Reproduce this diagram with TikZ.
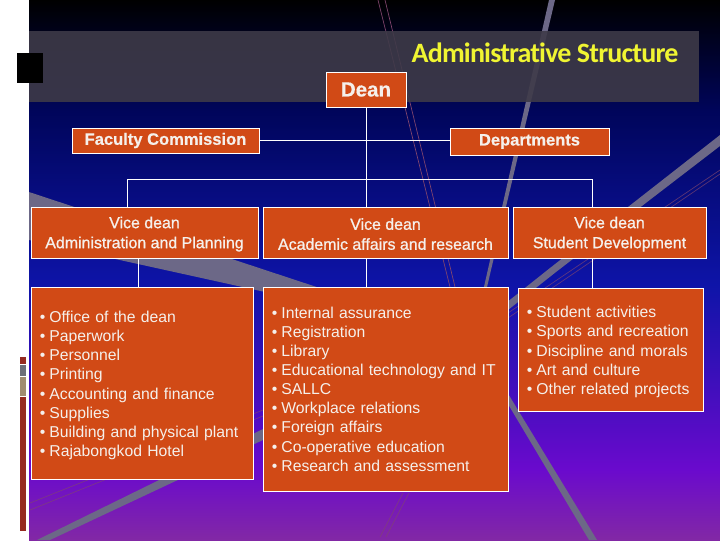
\documentclass[tikz,border=0pt]{standalone}
\usepackage{fontspec}
\setmainfont{Liberation Sans}
\newfontfamily\titlefont[Ligatures=NoCommon,LetterSpace=-3]{Carlito}
\newfontfamily\vicefont[FakeBold=0.9]{Liberation Sans}
\newfontfamily\headfont[FakeBold=0.5]{Liberation Sans Bold}
\usepackage{tikz}
\definecolor{BgTop}{RGB}{0,0,0}
\definecolor{BgNavy}{RGB}{0,5,90}
\definecolor{BgBlue}{RGB}{14,20,168}
\definecolor{BgViolet}{RGB}{106,10,205}
\definecolor{BgPlum}{RGB}{130,40,165}
\definecolor{BandGray}{RGB}{62,58,72}
\definecolor{LineGray}{RGB}{108,104,135}
\definecolor{FaintLine}{RGB}{130,70,110}
\definecolor{BoxOrange}{RGB}{209,74,22}
\definecolor{TextWhite}{RGB}{245,240,235}
\definecolor{TitleYellow}{RGB}{240,245,50}
\definecolor{BarRed}{RGB}{150,42,32}
\definecolor{BarGray}{RGB}{108,110,120}
\definecolor{BarTan}{RGB}{160,140,112}
\newcommand{\itm}[1]{\makebox[7.2pt][l]{\textbullet}#1}
\newcommand{\topitm}[1]{\rule{0pt}{12.2pt}\itm{#1}}
\newcommand{\vicetop}{\rule{0pt}{11pt}Vice dean}
\tikzset{
	orgbox/.style={draw=white, fill=BoxOrange, line width=0.75pt, text=TextWhite, inner sep=0pt, outer sep=0pt, align=center, minimum width=#1*0.75pt},
	vicebox/.style={orgbox=#1, minimum height=38.25pt, font=\vicefont\fontsize{11.95}{15}\selectfont},
	headbox/.style={orgbox=#1, font=\headfont\fontsize{12.4}{15}\selectfont},
	listbox/.style={orgbox=#1, align=left, inner xsep=6.6pt, text width=#1*0.75pt-13.2pt, font=\fontsize{11.8}{14.35}\selectfont},
	orgline/.style={draw=white, line width=0.75pt},
}
\begin{document}
\begin{tikzpicture}[x=0.75pt,y=-0.75pt]
	\useasboundingbox (0,0) rectangle (720,540);
	% background
	\fill[white] (0,0) rectangle (720,540);
	\shade[top color=BgTop, bottom color=BgNavy] (29,0) rectangle (720,110);
	\shade[top color=BgNavy, bottom color=BgBlue] (29,109.5) rectangle (720,285);
	\shade[top color=BgBlue, bottom color=BgViolet] (29,284.5) rectangle (720,470);
	\shade[top color=BgViolet, bottom color=BgPlum] (29,469.5) rectangle (720,540);

	% streaks
	\fill[LineGray] (29,192) -- (465,336) -- (29,240) -- cycle;
	\fill[LineGray] (549,0) -- (555,0) -- (491,270) -- (484,300) -- (481,300) -- cycle;
	\fill[LineGray] (720,135) -- (720,146) -- (556,272) -- (508,310) -- (263,440) -- (50,540) -- (37,540) -- (263,429) -- (506,303) -- (550,268) -- cycle;
	\fill[LineGray] (440,290) -- (445,290) -- (597,540) -- (589,540) -- cycle;
	\draw[FaintLine, line width=0.5pt] (378,0) -- (450,287);
	\draw[FaintLine, line width=0.5pt] (385,0) -- (455,287);
	\draw[FaintLine, line width=0.5pt, opacity=0.7] (720,170) -- (508,313) -- (263,410) -- (30,503);
	\draw[FaintLine, line width=0.5pt, opacity=0.7] (720,174) -- (508,318) -- (263,416) -- (30,510);
	\draw[FaintLine, line width=0.5pt, opacity=0.7] (380,537) -- (403,493);
	\draw[FaintLine, line width=0.5pt, opacity=0.7] (386,537) -- (409,493);

	% title band
	\fill[BandGray, opacity=0.9] (29,31) rectangle (699,102);
	\fill[black] (17,53) rectangle (43,83);
	\node[text=TitleYellow, font=\titlefont\bfseries\fontsize{21}{23}\selectfont] (title) at (545,53) {Administrative Structure};

	% colour bar
	\fill[BarRed] (20,357) rectangle (26,364);
	\fill[BarGray] (20,365) rectangle (26,376);
	\fill[BarTan] (20,377) rectangle (26,396);
	\fill[BarRed] (20,397) rectangle (26,531);

	% top row
	\node[headbox=80, minimum height=26.25pt, font=\headfont\fontsize{15.4}{17}\selectfont] (dean) at (366,89.5) {Dean};
	\node[headbox=187, minimum height=18.75pt] (faculty) at (165.5,140.5) {Faculty Commission};
	\node[headbox=159, minimum height=20.25pt] (depts) at (529.5,141.5) {Departments};

	% vice deans
	\node[vicebox=227] (adminvd) at (144.5,232.5) {\vicetop\\Administration and Planning};
	\node[vicebox=245] (acadvd) at (385.5,232.5) {\vicetop\\Academic affairs and research};
	\node[vicebox=193] (studvd) at (609.5,232.5) {\vicetop\\Student Development};

	% lists
	\node[listbox=222, minimum height=144pt] (adminlist) at (142,383) {\topitm{Office of the dean}\\ \itm{Paperwork}\\ \itm{Personnel}\\ \itm{Printing}\\ \itm{Accounting and finance}\\ \itm{Supplies}\\ \itm{Building and physical plant}\\ \itm{Rajabongkod Hotel}};
	\node[listbox=245, minimum height=153pt] (acadlist) at (385.5,389) {\itm{Internal assurance}\\ \itm{Registration}\\ \itm{Library}\\ \itm{Educational technology and IT}\\ \itm{SALLC}\\ \itm{Workplace relations}\\ \itm{Foreign affairs}\\ \itm{Co-operative education}\\ \itm{Research and assessment}};
	\node[listbox=185, minimum height=92.25pt] (studlist) at (610.5,349.5) {\topitm{Student activities}\\ \itm{Sports and recreation}\\ \itm{Discipline and morals}\\ \itm{Art and culture}\\ \itm{Other related projects}};

	% connectors
	\coordinate (busl) at (127,179);
	\coordinate (busr) at (592,179);
	\coordinate (deanx) at (366,270);
	\coordinate (adminx) at (138,270);
	\draw[orgline] (dean.south) -- (dean.south |- acadvd.north);
	\draw[orgline] (deanx |- acadvd.south) -- (deanx |- acadlist.north);
	\draw[orgline] (faculty.east) -- (faculty.east -| depts.west);
	\draw[orgline] (busl |- adminvd.north) -- (busl) -- (busr) -- (busr |- studvd.north);
	\draw[orgline] (adminx |- adminvd.south) -- (adminx |- adminlist.north);
	\draw[orgline] (busr |- studvd.south) -- (busr |- studlist.north);
\end{tikzpicture}
\end{document}
